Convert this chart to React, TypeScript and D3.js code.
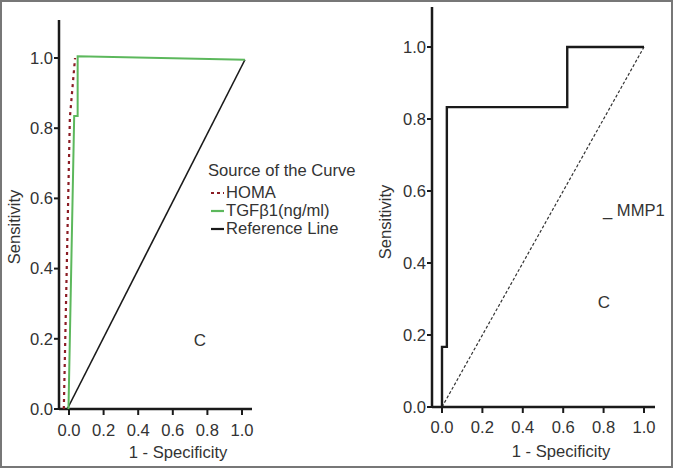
import React from "react";
import * as d3 from "d3";

// ---------- data ----------
const tickValues = [0, 0.2, 0.4, 0.6, 0.8, 1.0];

// Left panel
const homaX = [-0.03, 0.005, 0.035];
const homaY = [0, 0.83, 1.0];
const tgfX = [-0.003, 0.03, 0.05, 0.05, 1.017];
const tgfY = [0, 0.835, 0.835, 1.005, 0.995];
const refLX = [-0.01, 1.017];
const refLY = [0, 0.995];
const legendTitle = "Source of the Curve";
const legendLabels = ["HOMA", "TGFβ1(ng/ml)", "Reference Line"];

// Right panel
const mmpX = [0, 0, 0.024, 0.024, 0.62, 0.62, 1.0];
const mmpY = [0, 0.167, 0.167, 0.833, 0.833, 1.0, 1.0];
const refRX = [0, 1];
const refRY = [0, 1];

const FONT = "'Liberation Sans', Arial, sans-serif";
const GREEN = "#5cb85c";
const RED = "#8b1c24";
const FS = 16.6;

type PanelProps = {
  x: d3.ScaleLinear<number, number>;
  y: d3.ScaleLinear<number, number>;
  axisX: number;
  axisTop: number;
  xEnd: number;
  yLabelX: number;
  yLabelY: number;
  xLabelX: number;
  xLabelY: number;
  tickLabelY: number;
};

function Axes(p: PanelProps) {
  const y0 = p.y(0);
  return (
    <g fontFamily={FONT} fill="#333">
      <line x1={p.axisX} x2={p.axisX} y1={p.axisTop} y2={y0 + 1} stroke="#1a1a1a" strokeWidth={2.5} />
      <line x1={p.axisX} x2={p.xEnd} y1={y0} y2={y0} stroke="#1a1a1a" strokeWidth={2.5} />
      {tickValues.map((t) => (
        <g key={"y" + t}>
          <line x1={p.axisX - 5} x2={p.axisX} y1={p.y(t)} y2={p.y(t)} stroke="#1a1a1a" strokeWidth={2} />
          <text x={p.axisX - 6} y={p.y(t)} dy="0.35em" textAnchor="end" fontSize={FS}>
            {t.toFixed(1)}
          </text>
        </g>
      ))}
      {tickValues.map((t) => (
        <g key={"x" + t}>
          <line x1={p.x(t)} x2={p.x(t)} y1={y0} y2={y0 + 6} stroke="#1a1a1a" strokeWidth={2} />
          <text x={p.x(t)} y={p.tickLabelY} textAnchor="middle" fontSize={FS}>
            {t.toFixed(1)}
          </text>
        </g>
      ))}
      <text x={p.xLabelX} y={p.xLabelY} textAnchor="middle" fontSize={FS}>
        1 - Specificity
      </text>
      <text
        transform={`translate(${p.yLabelX},${p.yLabelY}) rotate(-90)`}
        textAnchor="middle"
        fontSize={FS}
      >
        Sensitivity
      </text>
    </g>
  );
}

export default function App() {
  const xL = d3.scaleLinear().domain([0, 1]).range([69, 242]);
  const yL = d3.scaleLinear().domain([0, 1]).range([409, 58]);
  const xR = d3.scaleLinear().domain([0, 1]).range([442, 644]);
  const yR = d3.scaleLinear().domain([0, 1]).range([407, 47]);

  const lineL = d3
    .line<[number, number]>()
    .x((d) => xL(d[0]))
    .y((d) => yL(d[1]));
  const lineR = d3
    .line<[number, number]>()
    .x((d) => xR(d[0]))
    .y((d) => yR(d[1]));

  const zip = (a: number[], b: number[]) => a.map((v, i) => [v, b[i]] as [number, number]);

  const legendRows = [
    { label: legendLabels[0], color: RED, dash: "3,3", y: 198 },
    { label: legendLabels[1], color: GREEN, dash: undefined, y: 216 },
    { label: legendLabels[2], color: "#1a1a1a", dash: undefined, y: 234 },
  ];

  return (
    <svg
      width={673}
      height={468}
      style={{ position: "absolute", left: 0, top: 0, background: "#fff" }}
    >
      <rect x={0} y={0} width={673} height={468} fill="#fff" />
      <rect x={1} y={1} width={671} height={466} fill="none" stroke="#777" strokeWidth={2} />

      {/* Left panel */}
      <Axes
        x={xL}
        y={yL}
        axisX={59}
        axisTop={20}
        xEnd={252}
        yLabelX={20}
        yLabelY={227}
        xLabelX={178}
        xLabelY={458}
        tickLabelY={436}
      />
      <path d={lineL(zip(refLX, refLY)) || ""} fill="none" stroke="#1a1a1a" strokeWidth={1.6} />
      <path d={lineL(zip(homaX, homaY)) || ""} fill="none" stroke={RED} strokeWidth={2.2} strokeDasharray="3,4" />
      <path d={lineL(zip(tgfX, tgfY)) || ""} fill="none" stroke={GREEN} strokeWidth={2} />

      <g fontFamily={FONT} fill="#333" fontSize={FS}>
        <text x={208} y={176}>{legendTitle}</text>
        {legendRows.map((r) => (
          <g key={r.label}>
            <line
              x1={211}
              x2={224}
              y1={r.y - 5}
              y2={r.y - 5}
              stroke={r.color}
              strokeWidth={2.2}
              strokeDasharray={r.dash}
            />
            <text x={226} y={r.y}>{r.label}</text>
          </g>
        ))}
        <text x={200} y={346} textAnchor="middle" fontSize={17}>C</text>
      </g>

      {/* Right panel */}
      <Axes
        x={xR}
        y={yR}
        axisX={432}
        axisTop={7}
        xEnd={655}
        yLabelX={391}
        yLabelY={222}
        xLabelX={561}
        xLabelY={457}
        tickLabelY={433}
      />
      <path d={lineR(zip(refRX, refRY)) || ""} fill="none" stroke="#333" strokeWidth={1.2} strokeDasharray="3,2" />
      <path d={lineR(zip(mmpX, mmpY)) || ""} fill="none" stroke="#1a1a1a" strokeWidth={2.4} />
      <g fontFamily={FONT} fill="#333" fontSize={FS}>
        <text x={603} y={216}>_ MMP1</text>
        <text x={604} y={308} textAnchor="middle" fontSize={17}>C</text>
      </g>
    </svg>
  );
}
